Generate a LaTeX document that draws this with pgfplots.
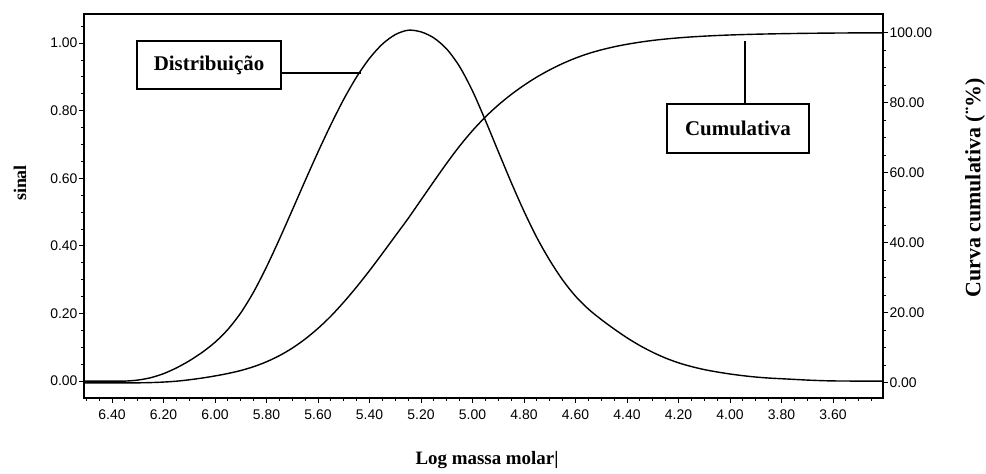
\documentclass[border=0pt]{standalone}
\usepackage{pgfplots}
\pgfplotsset{compat=1.18}
\usepackage{pgfplotstable}
\usepackage{fontspec}
\setmainfont{Liberation Serif}
\newfontfamily\tickfont{Liberation Sans}

\pgfplotstableread{
x y
6.509 0.000
6.400 0.000
6.350 0.000
6.300 0.003
6.250 0.010
6.200 0.022
6.150 0.039
6.100 0.060
6.050 0.085
6.000 0.115
5.950 0.153
5.900 0.202
5.850 0.264
5.800 0.338
5.750 0.420
5.700 0.506
5.650 0.593
5.600 0.678
5.550 0.759
5.500 0.834
5.450 0.900
5.400 0.955
5.350 0.997
5.300 1.025
5.250 1.038
5.200 1.033
5.150 1.015
5.100 0.982
5.050 0.930
5.000 0.858
4.950 0.771
4.900 0.679
4.850 0.588
4.800 0.502
4.750 0.424
4.700 0.357
4.650 0.299
4.600 0.251
4.550 0.213
4.500 0.182
4.450 0.154
4.400 0.128
4.350 0.105
4.300 0.085
4.250 0.068
4.200 0.054
4.150 0.043
4.100 0.034
4.050 0.027
4.000 0.021
3.950 0.016
3.900 0.012
3.850 0.009
3.800 0.007
3.750 0.005
3.700 0.003
3.650 0.0015
3.600 0.0005
3.500 0.000
3.406 0.000
}\distrib

\pgfplotstableread{
x y
6.509 0.00
6.350 0.00
6.300 0.03
6.250 0.10
6.200 0.25
6.150 0.50
6.100 0.90
6.050 1.40
6.000 2.00
5.950 2.70
5.900 3.55
5.850 4.65
5.800 6.05
5.750 7.80
5.700 9.95
5.650 12.55
5.600 15.60
5.550 19.10
5.500 23.10
5.450 27.45
5.400 32.10
5.350 37.00
5.300 42.00
5.250 47.00
5.200 52.30
5.150 57.60
5.100 62.80
5.050 67.70
5.000 72.10
4.950 76.00
4.900 79.40
4.850 82.40
4.800 85.05
4.750 87.40
4.700 89.45
4.650 91.25
4.600 92.80
4.550 94.10
4.500 95.15
4.450 96.03
4.400 96.75
4.350 97.35
4.300 97.85
4.250 98.25
4.200 98.58
4.150 98.85
4.100 99.07
4.050 99.25
4.000 99.40
3.950 99.52
3.900 99.62
3.850 99.70
3.800 99.77
3.700 99.88
3.600 99.95
3.500 100.00
3.406 100.00
}\cumul

\begin{document}
\begin{tikzpicture}[x=1bp,y=1bp]
\useasboundingbox (0,0) rectangle (986,474);

\pgfplotsset{
  commonax/.style={
    at={(84bp,76bp)}, anchor=south west,
    scale only axis, width=799bp, height=384bp,
    xmin=3.406, xmax=6.509, x dir=reverse,
    tick align=outside,
    major tick length=5bp, minor tick length=3bp,
    every tick/.style={black, line width=0.9bp},
    axis line style={line width=1.2bp, black},
    /pgf/number format/assume math mode=true,
    tick label style={font=\tickfont\fontsize{14}{14}\selectfont},
    /pgf/number format/.cd, fixed, fixed zerofill, precision=2,
  }
}

\begin{axis}[commonax,
  ymin=-0.05, ymax=1.086,
  tick pos=left,
  xtick={3.6,3.8,4.0,4.2,4.4,4.6,4.8,5.0,5.2,5.4,5.6,5.8,6.0,6.2,6.4},
  minor xtick={3.45,3.5,3.55,3.65,3.7,3.75,3.85,3.9,3.95,4.05,4.1,4.15,4.25,4.3,4.35,4.45,4.5,4.55,4.65,4.7,4.75,4.85,4.9,4.95,5.05,5.1,5.15,5.25,5.3,5.35,5.45,5.5,5.55,5.65,5.7,5.75,5.85,5.9,5.95,6.05,6.1,6.15,6.25,6.3,6.35,6.45,6.5},
  ytick={0,0.2,0.4,0.6,0.8,1.0},
  minor ytick={0.05,0.1,0.15,0.25,0.3,0.35,0.45,0.5,0.55,0.65,0.7,0.75,0.85,0.9,0.95,1.05},
  yticklabel style={xshift=2bp},
  xticklabel style={yshift=-3bp},
]
\addplot[black, line width=1.4bp, smooth, tension=0.5] table[x=x,y=y] {\distrib};
\end{axis}

\begin{axis}[commonax,
  ymin=-4.3, ymax=105.4,
  axis x line=none,
  axis y line*=right,
  ytick={0,20,40,60,80,100},
  minor ytick={5,10,15,25,30,35,45,50,55,65,70,75,85,90,95},
  yticklabel style={xshift=-2bp},
]
\addplot[black, line width=1.4bp, smooth, tension=0.5] table[x=x,y=y] {\cumul};
\end{axis}

% annotation boxes
\node[draw, line width=1.3bp, minimum width=144bp, minimum height=48bp, inner sep=0pt,
      font=\bfseries\fontsize{21}{23}\selectfont] at (209,409) {Distribuição};
\draw[line width=1.2bp] (281,401) -- (361,401);

\node[draw, line width=1.3bp, minimum width=142bp, minimum height=49bp, inner sep=0pt,
      font=\bfseries\fontsize{21}{23}\selectfont] at (738,345.5) {Cumulativa};
\draw[line width=1.2bp] (745,370) -- (745,433);

% axis titles
\node[rotate=90, font=\bfseries\fontsize{18}{20}\selectfont] at (20,291) {sinal};
\node[rotate=90, font=\bfseries\fontsize{22}{24}\selectfont] at (975,286) {Curva cumulativa (¨\%)};
\node[font=\bfseries\fontsize{19}{21}\selectfont] at (487,14) {Log massa molar|};
\end{tikzpicture}
\end{document}
